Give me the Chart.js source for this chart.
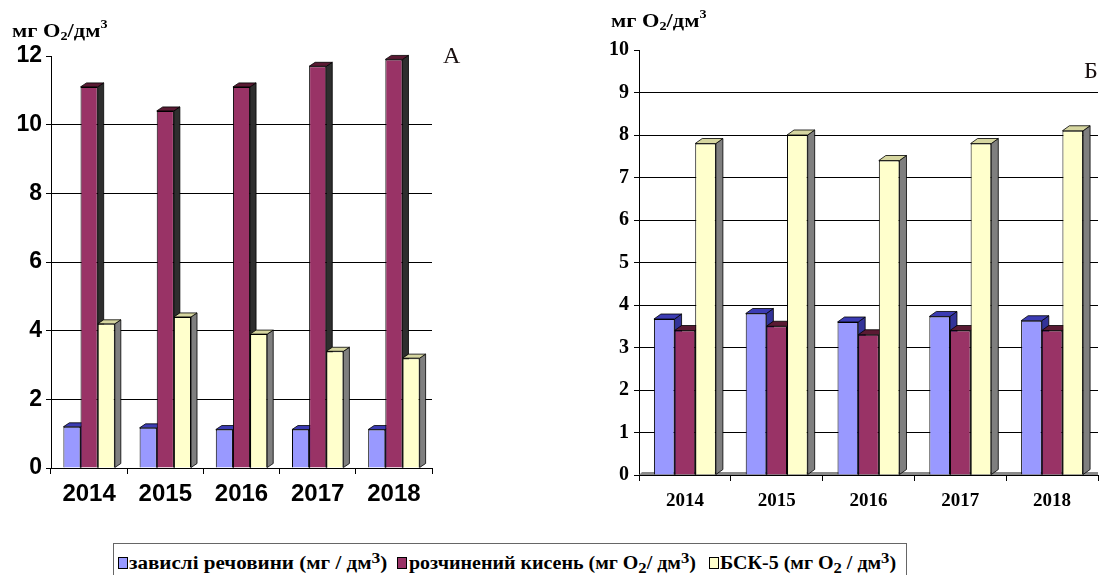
<!DOCTYPE html>
<html>
<head>
<meta charset="utf-8">
<script src="https://cdn.jsdelivr.net/npm/chart.js@4/dist/chart.umd.min.js"></script>
<style>
  html, body { margin: 0; padding: 0; background: #fff; }
  #wrap { position: relative; width: 1101px; height: 575px; overflow: hidden;
          font-family: 'Liberation Serif', serif; color: #000; }
  canvas { position: absolute; }
  #cA { left: 0; top: 0; }
  #cB { left: 590px; top: 0; }
  .unit { position: absolute; font-family: 'Liberation Serif', serif; font-weight: bold; font-size: 19px;
          white-space: nowrap; transform: scaleX(1.18); transform-origin: 0 0; }
  .unit sub { font-size: 12px; vertical-align: -3px; }
  .unit sup { font-size: 12px; vertical-align: 9px; }
  .panel { position: absolute; font-family: 'Liberation Serif', serif; font-size: 24px; color: #1a1010; }
  #legend { position: absolute; left: 113px; top: 543px; width: 792px; height: 40px;
            border-top: 1px solid #666; border-left: 1px solid #666; border-right: 1px solid #666; }
  .item { position: absolute; top: 6px; font-family: 'Liberation Serif', serif; font-weight: bold; font-size: 18px;
          white-space: nowrap; transform-origin: 0 0; }
  .item sup { font-size: 15px; vertical-align: 6px; }
  .item sub { font-size: 15px; vertical-align: -4px; }
  .sw { position: absolute; top: 13px; width: 8px; height: 10px; border: 1px solid #000; }
</style>
</head>
<body>
<div id="wrap">
  <canvas id="cA" width="470" height="530"></canvas>
  <canvas id="cB" width="511" height="530"></canvas>
  <div class="unit" style="left:12px; top:17px;">мг O<sub>2</sub>/дм<sup>3</sup></div>
  <div class="unit" style="left:611px; top:7px;">мг O<sub>2</sub>/дм<sup>3</sup></div>
  <div class="panel" style="left:443px; top:42px;">А</div>
  <div class="panel" style="left:1084px; top:57px;">Б</div>
  <div id="legend"></div>
</div>
<script>
// Years on the category axis
const years = ['2014', '2015', '2016', '2017', '2018'];

// Legend names of the three series
const seriesNames = [
  'завислі речовини (мг / дм<sup>3</sup>)',
  'розчинений кисень (мг O<sub>2</sub>/ дм<sup>3</sup>)',
  'БСК-5 (мг O<sub>2</sub> / дм<sup>3</sup>)'
];

// Panel А
const suspendedA = [1.2, 1.17, 1.12, 1.12, 1.12];
const oxygenA    = [11.1, 10.4, 11.1, 11.7, 11.9];
const bodA       = [4.2, 4.4, 3.9, 3.4, 3.2];
const ticksA     = [0, 2, 4, 6, 8, 10, 12];

// Panel Б
const suspendedB = [3.67, 3.8, 3.6, 3.73, 3.63];
const oxygenB    = [3.4, 3.5, 3.3, 3.4, 3.4];
const bodB       = [7.8, 8.0, 7.4, 7.8, 8.1];
const ticksB     = [0, 1, 2, 3, 4, 5, 6, 7, 8, 9, 10];

// Face colours: front, top, side
const palette = [
  { front: '#9999FF', top: '#3c3cb4', side: '#333399' },
  { front: '#993366', top: '#5a1a33', side: '#2e2e2e' },
  { front: '#FFFFCC', top: '#d6d6a0', side: '#7f7f7f' }
];

function poly(ctx, pts, fill) {
  ctx.beginPath();
  ctx.moveTo(pts[0][0], pts[0][1]);
  for (let i = 1; i < pts.length; i++) ctx.lineTo(pts[i][0], pts[i][1]);
  ctx.closePath();
  ctx.fillStyle = fill;
  ctx.fill();
  ctx.stroke();
}

// Draws the top and side faces of each bar, and an optional floor, behind the front faces
const depthPlugin = {
  id: 'depth',
  beforeDatasetsDraw(chart, args, opts) {
    const { ctx, chartArea: a } = chart;
    const dx = opts.dx, dy = opts.dy;
    ctx.save();
    ctx.lineWidth = 0.8;
    ctx.strokeStyle = '#000';
    if (opts.floor) {
      ctx.fillStyle = '#8a8a8a';
      ctx.beginPath();
      ctx.moveTo(a.left, a.bottom);
      ctx.lineTo(a.left + opts.floor, a.bottom - opts.floor);
      ctx.lineTo(a.right, a.bottom - opts.floor);
      ctx.lineTo(a.right, a.bottom);
      ctx.closePath();
      ctx.fill();
    }
    chart.data.datasets.forEach((ds, i) => {
      const meta = chart.getDatasetMeta(i);
      meta.data.forEach(bar => {
        const p = bar.getProps(['x', 'y', 'base', 'width'], true);
        const l = p.x - p.width / 2, r = p.x + p.width / 2;
        poly(ctx, [[r, p.y], [r + dx, p.y - dy], [r + dx, p.base - dy], [r, p.base]], ds.sideColor);
        poly(ctx, [[l, p.y], [l + dx, p.y - dy], [r + dx, p.y - dy], [r, p.y]], ds.topColor);
      });
    });
    ctx.restore();
  }
};

function makeDatasets(values) {
  return values.map((v, i) => ({
    label: seriesNames[i].replace(/<[^>]+>/g, ''),
    data: v,
    backgroundColor: palette[i].front,
    topColor: palette[i].top,
    sideColor: palette[i].side,
    borderColor: '#000',
    borderWidth: 1,
    categoryPercentage: 0.675,
    barPercentage: 1.0
  }));
}

function makeChart(id, values, ticks, cfg) {
  const maxV = ticks[ticks.length - 1];
  return new Chart(document.getElementById(id), {
    type: 'bar',
    data: { labels: years, datasets: makeDatasets(values) },
    plugins: [depthPlugin],
    options: {
      responsive: false,
      animation: false,
      events: [],
      layout: { padding: cfg.padding },
      plugins: {
        legend: { display: false },
        tooltip: { enabled: false },
        depth: { dx: cfg.dx, dy: cfg.dy, floor: cfg.floor }
      },
      scales: {
        x: {
          grid: { offset: true, drawOnChartArea: false, tickLength: 6, color: '#000', tickColor: '#000' },
          border: { color: '#000', width: 1 },
          ticks: { color: '#000', padding: cfg.xPad, font: cfg.xFont, maxRotation: 0 },
          afterFit: s => { s.height = cfg.xHeight; }
        },
        y: {
          min: 0,
          max: maxV,
          afterBuildTicks: s => { s.ticks = ticks.map(v => ({ value: v })); },
          grid: {
            color: c => (c.tick && c.tick.value === maxV) ? 'rgba(0,0,0,0)' : '#000',
            tickColor: '#000',
            tickLength: 5,
            lineWidth: 1
          },
          border: { color: '#000', width: 1 },
          ticks: { color: '#000', padding: cfg.yPad, font: cfg.yFont },
          afterFit: s => { s.width = cfg.yWidth; }
        }
      }
    }
  });
}

makeChart('cA', [suspendedA, oxygenA, bodA], ticksA, {
  padding: { top: 56, right: 38, left: 0, bottom: 0 },
  yWidth: 51, xHeight: 62, xPad: 6, yPad: 4, dx: 6, dy: 4, floor: 0,
  xFont: { family: 'Liberation Sans', weight: 'bold', size: 24 },
  yFont: { family: 'Liberation Sans', weight: 'bold', size: 23 }
});

makeChart('cB', [suspendedB, oxygenB, bodB], ticksB, {
  padding: { top: 50, right: 3, left: 0, bottom: 0 },
  yWidth: 49, xHeight: 55, xPad: 9, yPad: 5, dx: 7, dy: 5, floor: 3,
  xFont: { family: 'Liberation Serif', weight: 'bold', size: 19 },
  yFont: { family: 'Liberation Serif', weight: 'bold', size: 20 }
});

// Shared legend under both panels: swatch left, text left, horizontal text stretch
const legendPos = [
  { sw: 4, tx: 15, stretch: 1.17 },
  { sw: 283, tx: 295, stretch: 1.11 },
  { sw: 595, tx: 606, stretch: 1.11 }
];
const legend = document.getElementById('legend');
seriesNames.forEach((name, i) => {
  const sw = document.createElement('div');
  sw.className = 'sw';
  sw.style.left = legendPos[i].sw + 'px';
  sw.style.background = palette[i].front;
  legend.appendChild(sw);
  const tx = document.createElement('div');
  tx.className = 'item';
  tx.style.left = legendPos[i].tx + 'px';
  tx.style.transform = 'scaleX(' + legendPos[i].stretch + ')';
  tx.innerHTML = name;
  legend.appendChild(tx);
});
</script>
</body>
</html>
